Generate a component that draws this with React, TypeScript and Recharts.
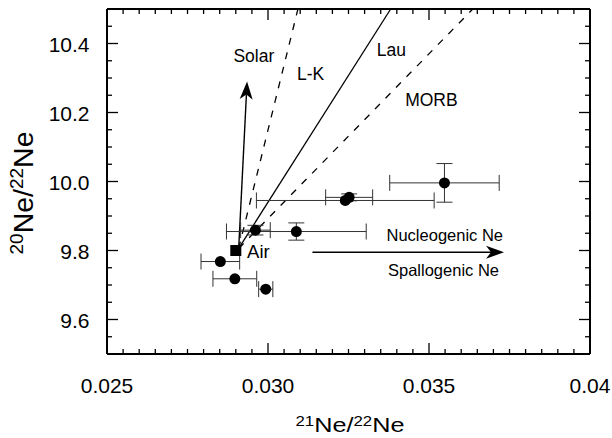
import { ScatterChart, Scatter, XAxis, YAxis, ErrorBar, ReferenceLine } from "recharts"

const FONT = '"Liberation Sans", Arial, Helvetica, sans-serif'

// échantillons : 21Ne/22Ne, 20Ne/22Ne et incertitudes
const SAMPLE_X = [0.03548, 0.0324, 0.03252, 0.02961, 0.03088, 0.02852, 0.02897, 0.02993]
const SAMPLE_Y = [9.996, 9.945, 9.954, 9.859, 9.855, 9.768, 9.718, 9.688]
const SAMPLE_XERR = [0.0017, 0.00276, 0.00073, 0.00046, 0.00217, 0.0006, 0.00068, 0.00022]
const SAMPLE_YERR = [0.056, 0, 0.01, 0.014, 0.025, 0, 0, 0]

const AIR = [{ x: 0.029, y: 9.8 }]

// droites de mélange depuis l'air
const MIX_ORIGIN = { x: 0.02909, y: 9.806 }
const SOLAR_END = { x: 0.02935, y: 10.29 }
const LK_END = { x: 0.03093, y: 10.5 }
const LAU_END = { x: 0.03381, y: 10.5 }
const MORB_END = { x: 0.03636, y: 10.5 }
const NUCLEO_ARROW = [{ x: 0.03138, y: 9.795 }, { x: 0.03733, y: 9.795 }]

const LINE_LABELS = [
  { text: "Solar", x: 0.02956, y: 10.345, anchor: "middle" },
  { text: "L-K", x: 0.0309, y: 10.295, anchor: "start" },
  { text: "Lau", x: 0.03338, y: 10.365, anchor: "start" },
  { text: "MORB", x: 0.03426, y: 10.218, anchor: "start" },
]
const AIR_LABEL = [{ text: "Air", x: 0.02935, y: 9.777, anchor: "start" }]
const ARROW_LABELS = [
  { text: "Nucleogenic Ne", x: 0.03549, y: 9.827, anchor: "middle" },
  { text: "Spallogenic Ne", x: 0.03545, y: 9.726, anchor: "middle" },
]

const X_TICKS = [
  0.025, 0.0255, 0.026, 0.0265, 0.027, 0.0275, 0.028, 0.0285, 0.029, 0.0295,
  0.03, 0.0305, 0.031, 0.0315, 0.032, 0.0325, 0.033, 0.0335, 0.034, 0.0345,
  0.035, 0.0355, 0.036, 0.0365, 0.037, 0.0375, 0.038, 0.0385, 0.039, 0.0395, 0.04,
]
const X_MAJOR = [0.025, 0.03, 0.035, 0.04]
const X_LABELS = ["0.025", "0.030", "0.035", "0.04"]

const Y_TICKS = [
  9.5, 9.55, 9.6, 9.65, 9.7, 9.75, 9.8, 9.85, 9.9, 9.95,
  10, 10.05, 10.1, 10.15, 10.2, 10.25, 10.3, 10.35, 10.4, 10.45, 10.5,
]
const Y_MAJOR = [9.6, 9.8, 10, 10.2, 10.4]
const Y_LABELS = ["9.6", "9.8", "10.0", "10.2", "10.4"]

const X_DOMAIN = [0.025, 0.04]
const Y_DOMAIN = [9.5, 10.5]

const near = (a: number, b: number) => Math.abs(a - b) < 1e-7

const samples = SAMPLE_X.map((x, i) => ({ x, y: SAMPLE_Y[i], ex: SAMPLE_XERR[i], ey: SAMPLE_YERR[i] }))

// graduations du cadre, placées via les échelles (bas, haut, gauche, droite)
const tickMarks = [
  ...X_TICKS.map((v) => ({ x: v, y: Y_DOMAIN[0], side: "b", major: X_MAJOR.some((m) => near(m, v)) })),
  ...X_TICKS.map((v) => ({ x: v, y: Y_DOMAIN[1], side: "t", major: X_MAJOR.some((m) => near(m, v)) })),
  ...Y_TICKS.map((v) => ({ x: X_DOMAIN[0], y: v, side: "l", major: Y_MAJOR.some((m) => near(m, v)) })),
  ...Y_TICKS.map((v) => ({ x: X_DOMAIN[1], y: v, side: "r", major: Y_MAJOR.some((m) => near(m, v)) })),
]

const TickMark = (p: any) => {
  const { cx, cy, payload } = p
  const len = payload.major ? 11 : 5
  const d =
    payload.side === "b" ? `M${cx},${cy}v${-len}` :
    payload.side === "t" ? `M${cx},${cy}v${len}` :
    payload.side === "l" ? `M${cx},${cy}h${len}` : `M${cx},${cy}h${-len}`
  return <path d={d} stroke="#000" strokeWidth={1.3} fill="none" />
}

const XTitle = () => (
  <text x={350} y={432} textAnchor="middle" fontFamily={FONT} fontSize={21}
    fill="#000" textLength={109} lengthAdjust="spacingAndGlyphs">
    <tspan fontSize={14} dy={-6}>21</tspan>
    <tspan dy={6}>Ne/</tspan>
    <tspan fontSize={14} dy={-6}>22</tspan>
    <tspan dy={6}>Ne</tspan>
  </text>
)

const YTitle = () => (
  <text x={33} y={193} transform="rotate(-90, 33, 193)" textAnchor="middle" fontFamily={FONT}
    fontSize={27} fill="#000" textLength={123} lengthAdjust="spacingAndGlyphs">
    <tspan fontSize={18} dy={-10}>20</tspan>
    <tspan dy={10}>Ne/</tspan>
    <tspan fontSize={18} dy={-10}>22</tspan>
    <tspan dy={10}>Ne</tspan>
  </text>
)

// libellés de graduation (+ titre d'axe sur la 1re graduation)
const XLabel = (p: any) => {
  const i = X_MAJOR.findIndex((v) => near(v, p.payload.value))
  return (
    <g>
      {i >= 0 && (
        <text x={p.x} y={p.y + 38.5} textAnchor="middle" fontSize={21} fontFamily={FONT} fill="#000">
          {X_LABELS[i]}
        </text>
      )}
      {p.index === 0 && <XTitle />}
    </g>
  )
}

const YLabel = (p: any) => {
  const i = Y_MAJOR.findIndex((v) => near(v, p.payload.value))
  return (
    <g>
      {i >= 0 && (
        <text x={p.x - 17.5} y={p.y + 8.5} textAnchor="end" fontSize={21} fontFamily={FONT} fill="#000">
          {Y_LABELS[i]}
        </text>
      )}
      {p.index === 0 && <YTitle />}
    </g>
  )
}

// trait + pointe de flèche pleine
const Arrow = (p: any) => {
  const { x1, y1, x2, y2 } = p
  const a = Math.atan2(y2 - y1, x2 - x1)
  const c = Math.cos(a), s = Math.sin(a)
  const L = 18, W = 6.5, N = 5
  const bx = x2 - L * c, by = y2 - L * s
  const nx = x2 - (L - N) * c, ny = y2 - (L - N) * s
  const pts = `${x2},${y2} ${bx - s * W},${by + c * W} ${nx},${ny} ${bx + s * W},${by - c * W}`
  return (
    <g>
      <line x1={x1} y1={y1} x2={nx} y2={ny} stroke="#000" strokeWidth={1.4} />
      <polygon points={pts} fill="#000" />
    </g>
  )
}

const textShape = (size: number) => (p: any) => (
  <text x={p.cx} y={p.cy} textAnchor={p.payload.anchor} fontSize={size} fontFamily={FONT} fill="#000">
    {p.payload.text}
  </text>
)

const axisLine = { stroke: "#000", strokeWidth: 2 }

export default function App() {
  return (
    <div style={{ position: "absolute", left: 0, top: 0 }}>
      <ScatterChart width={612} height={438} margin={{ top: 8, right: 21, bottom: 0, left: 0 }}>
        <XAxis type="number" dataKey="x" domain={X_DOMAIN} ticks={X_TICKS} interval={0}
          height={84} tickSize={0} tickMargin={0} axisLine={axisLine} tickLine={false}
          tick={(p: any) => <XLabel {...p} />} />
        <XAxis xAxisId="top" orientation="top" type="number" dataKey="x" domain={X_DOMAIN}
          height={1} axisLine={axisLine} tickLine={false} tick={false} />
        <YAxis type="number" dataKey="y" domain={Y_DOMAIN} ticks={Y_TICKS} interval={0}
          width={107} tickSize={0} tickMargin={0} axisLine={axisLine} tickLine={false}
          tick={(p: any) => <YLabel {...p} />} />
        <YAxis yAxisId="right" orientation="right" type="number" dataKey="y" domain={Y_DOMAIN}
          width={1} axisLine={axisLine} tickLine={false} tick={false} />

        {/* série invisible pour donner une échelle aux axes du haut et de droite */}
        <Scatter data={samples} xAxisId="top" yAxisId="right" isAnimationActive={false} shape={() => <g />} />

        <Scatter data={tickMarks} isAnimationActive={false} shape={(p: any) => <TickMark {...p} />} />

        <ReferenceLine segment={[MIX_ORIGIN, LK_END]} stroke="#000" strokeWidth={1.3} strokeDasharray="7 8" ifOverflow="visible" />
        <ReferenceLine segment={[MIX_ORIGIN, LAU_END]} stroke="#000" strokeWidth={1.3} ifOverflow="visible" />
        <ReferenceLine segment={[MIX_ORIGIN, MORB_END]} stroke="#000" strokeWidth={1.3} strokeDasharray="7 8" ifOverflow="visible" />
        <ReferenceLine segment={[MIX_ORIGIN, SOLAR_END]} ifOverflow="visible" shape={(p: any) => <Arrow {...p} />} />
        <ReferenceLine segment={NUCLEO_ARROW} ifOverflow="visible" shape={(p: any) => <Arrow {...p} />} />

        <Scatter data={samples} isAnimationActive={false}
          shape={(p: any) => <circle cx={p.cx} cy={p.cy} r={5.5} fill="#000" />}>
          <ErrorBar dataKey="ex" direction="x" width={8} stroke="#333" strokeWidth={1} />
          <ErrorBar dataKey="ey" direction="y" width={8} stroke="#333" strokeWidth={1} />
        </Scatter>
        <Scatter data={AIR} isAnimationActive={false}
          shape={(p: any) => <rect x={p.cx - 5.5} y={p.cy - 5.5} width={11} height={11} fill="#000" />} />

        <Scatter data={LINE_LABELS} isAnimationActive={false} shape={textShape(17.5)} />
        <Scatter data={AIR_LABEL} isAnimationActive={false} shape={textShape(18.5)} />
        <Scatter data={ARROW_LABELS} isAnimationActive={false} shape={textShape(16.5)} />
      </ScatterChart>
    </div>
  )
}
